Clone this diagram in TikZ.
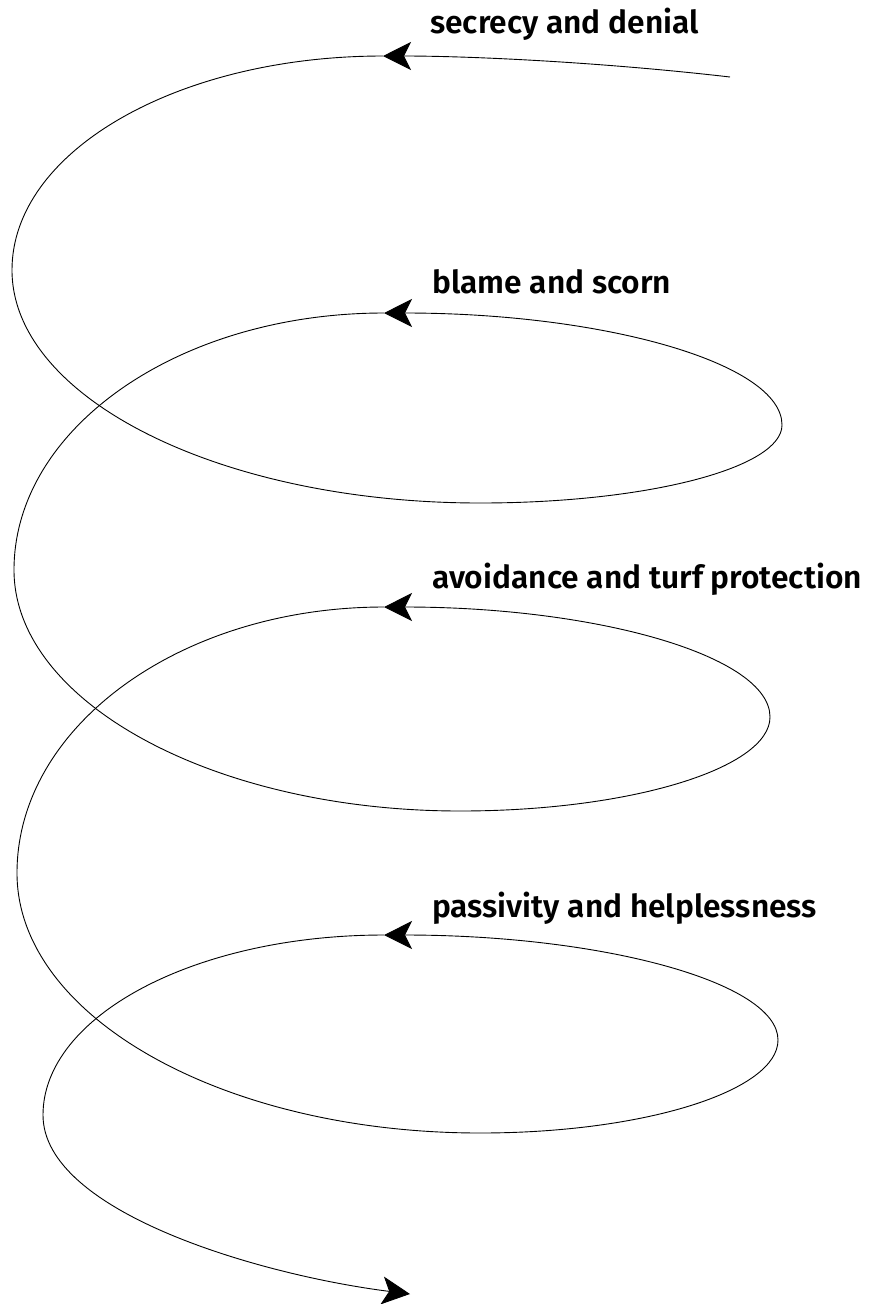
\documentclass[tikz,border=0pt]{standalone}
\usepackage{fontspec}
\setmainfont{Fira Sans}[BoldFont={Fira Sans SemiBold}]
\usetikzlibrary{arrows.meta}
\tikzset{
  spiral/.style={line width=0.9pt, black},
  tip/.style={-{Stealth[length=28pt,width=28pt,inset=7pt]}},
  lbl/.style={anchor=base west, inner sep=0pt, font=\fontsize{31.7}{36}\selectfont\bfseries}
}
\begin{document}
\begin{tikzpicture}[x=1pt,y=-1pt]
\useasboundingbox (0,0) rectangle (883,1304);
% key points
\coordinate (S) at (730,77);
\coordinate (T0) at (383,56);
\coordinate (L1) at (12,270);
\coordinate (B1) at (480,503);
\coordinate (R1) at (782,425);
\coordinate (T1) at (384,313);
\coordinate (L2) at (14,570);
\coordinate (B2) at (460,811);
\coordinate (R2) at (770,717);
\coordinate (T2) at (384,607);
\coordinate (L3) at (17,873);
\coordinate (B3) at (480,1133);
\coordinate (R3) at (778,1040);
\coordinate (T3) at (384,935);
\coordinate (L4) at (43,1115);
\coordinate (E) at (410,1294);
% spiral
\draw[spiral,tip] (S) .. controls (600,62) and (470,56) .. (T0);
\draw[spiral,tip] (T0) .. controls (178,56) and (12,151) .. (L1)
  .. controls (12,399) and (222,503) .. (B1)
  .. controls (647,503) and (782,468) .. (R1)
  .. controls (782,363) and (603,313) .. (T1);
\draw[spiral,tip] (T1) .. controls (179,313) and (14,428) .. (L2)
  .. controls (14,702) and (214,811) .. (B2)
  .. controls (631,811) and (770,768) .. (R2)
  .. controls (770,656) and (597,607) .. (T2);
\draw[spiral,tip] (T2) .. controls (181,607) and (17,726) .. (L3)
  .. controls (17,1017) and (224,1133) .. (B3)
  .. controls (644,1133) and (778,1091) .. (R3)
  .. controls (778,982) and (601,935) .. (T3);
\draw[spiral,tip] (T3) .. controls (195,935) and (43,1016) .. (L4)
  .. controls (43,1212) and (260,1275) .. (E);
% labels
\node[lbl] (t0) at (430,33) {secrecy and denial};
\node[lbl] (t1) at (432,293) {blame and scorn};
\node[lbl] (t2) at (432,588) {avoidance and turf protection};
\node[lbl] (t3) at (432,917) {passivity and helplessness};
\end{tikzpicture}
\end{document}
